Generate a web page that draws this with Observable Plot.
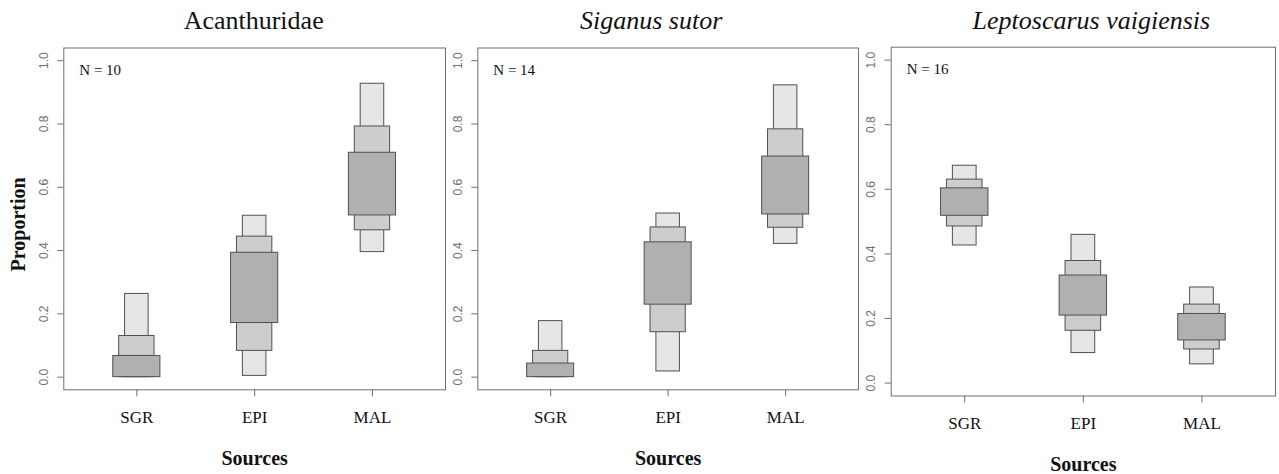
<!DOCTYPE html>
<html>
<head>
<meta charset="utf-8">
<script src="https://cdn.jsdelivr.net/npm/d3@7"></script>
<script src="https://cdn.jsdelivr.net/npm/@observablehq/plot@0.6"></script>
<style>
  body { margin: 0; background: white; }
  #wrap { position: relative; width: 1279px; height: 474px; overflow: hidden; background: white; }
  #wrap svg { position: absolute; top: 0; }
</style>
</head>
<body>
<div id="wrap"></div>
<script>
// ---------- data ----------
const sources = ["SGR", "EPI", "MAL"];
const titles = ["Acanthuridae", "Siganus sutor", "Leptoscarus vaigiensis"];
const titleItalic = [false, true, true];
const sampleN = [10, 14, 16];
const yTicks = [0, 0.2, 0.4, 0.6, 0.8, 1.0];

// credible intervals per source (SGR, EPI, MAL): 95%, 75%, 50% lower/upper
const acan_lo95 = [0.000, 0.004, 0.395];
const acan_lo75 = [0.000, 0.083, 0.464];
const acan_lo50 = [0.000, 0.171, 0.511];
const acan_hi50 = [0.067, 0.393, 0.709];
const acan_hi75 = [0.130, 0.444, 0.792];
const acan_hi95 = [0.263, 0.510, 0.927];

const sig_lo95 = [0.000, 0.018, 0.421];
const sig_lo75 = [0.000, 0.142, 0.472];
const sig_lo50 = [0.000, 0.229, 0.514];
const sig_hi50 = [0.043, 0.426, 0.697];
const sig_hi75 = [0.083, 0.473, 0.783];
const sig_hi95 = [0.177, 0.517, 0.922];

const lep_lo95 = [0.426, 0.093, 0.058];
const lep_lo75 = [0.485, 0.162, 0.104];
const lep_lo50 = [0.518, 0.209, 0.132];
const lep_hi50 = [0.603, 0.333, 0.214];
const lep_hi75 = [0.630, 0.378, 0.243];
const lep_hi95 = [0.673, 0.459, 0.296];

// ---------- build ----------
const panelsData = [
  [[acan_lo95, acan_hi95], [acan_lo75, acan_hi75], [acan_lo50, acan_hi50]],
  [[sig_lo95, sig_hi95], [sig_lo75, sig_hi75], [sig_lo50, sig_hi50]],
  [[lep_lo95, lep_hi95], [lep_lo75, lep_hi75], [lep_lo50, lep_hi50]]
];
const levelWidth = [0.2, 0.3, 0.4];
const levelFill = ["#e6e6e6", "#cdcdcd", "#b0b0b0"];

// layout of each panel (svg left, width, margins, title offset)
const layout = [
  {left: 0,   width: 448, mL: 63.3, mR: 3, mT: 47.5, mB: 84.7, tdx: -1},
  {left: 448, width: 413, mL: 29.3, mR: 3, mT: 47.5, mB: 84.7, tdx: -17},
  {left: 861, width: 418, mL: 29.7, mR: 4, mT: 46.7, mB: 78.5, tdx: 8}
];

const serif = "'Liberation Serif', 'Times New Roman', Times, serif";
const sans = "'Liberation Sans', Arial, Helvetica, sans-serif";
const wrap = document.getElementById("wrap");

panelsData.forEach((levels, p) => {
  const rects = [];
  levels.forEach(([lo, hi], l) => {
    sources.forEach((s, i) => {
      rects.push({x1: i + 1 - levelWidth[l] / 2, x2: i + 1 + levelWidth[l] / 2, y1: lo[i], y2: hi[i], level: l});
    });
  });
  const L = layout[p];
  const marks = [
    Plot.rect(rects, {x1: "x1", x2: "x2", y1: "y1", y2: "y2", fill: d => levelFill[d.level], stroke: "#505050", strokeWidth: 1}),
    Plot.frame({stroke: "#6e6e6e", strokeWidth: 1}),
    Plot.axisY({ticks: yTicks, tickSize: 6, tickFormat: () => "", stroke: "#6e6e6e"}),
    Plot.text(yTicks, {y: d => d, frameAnchor: "left", dx: -20, rotate: -90, text: d => d3.format(".1f")(d),
      fontSize: 12, fontFamily: sans, fill: "#707070", textAnchor: "middle", lineAnchor: "middle"}),
    Plot.axisX({ticks: [1, 2, 3], tickFormat: d => sources[d - 1], tickSize: 7, tickPadding: 14,
      fontSize: 17, fontFamily: serif, stroke: "#6e6e6e", fill: "#111"}),
    Plot.text([titles[p]], {frameAnchor: "top", dx: L.tdx, dy: -27, text: d => d, fontSize: 26, fontFamily: serif,
      fontStyle: titleItalic[p] ? "italic" : "normal", fill: "#111", lineAnchor: "middle"}),
    Plot.text(["N = " + sampleN[p]], {frameAnchor: "top-left", dx: 15.5, dy: 22, text: d => d, fontSize: 15,
      fontFamily: serif, fill: "#111", textAnchor: "start", lineAnchor: "middle"}),
    Plot.text(["Sources"], {frameAnchor: "bottom", dy: 68.5, text: d => d, fontSize: 20, fontWeight: "bold",
      fontFamily: serif, fill: "#111", lineAnchor: "middle"})
  ];
  if (p === 0) {
    marks.push(Plot.text(["Proportion"], {frameAnchor: "left", dx: -45.5, dy: 5.5, rotate: -90, text: d => d,
      fontSize: 20, fontWeight: "bold", fontFamily: serif, fill: "#111", lineAnchor: "middle", textAnchor: "middle"}));
  }
  const svg = Plot.plot({
    width: L.width,
    height: 474,
    marginLeft: L.mL,
    marginRight: L.mR,
    marginTop: L.mT,
    marginBottom: L.mB,
    style: {background: "white", overflow: "visible", maxWidth: "none"},
    x: {domain: [0.38, 3.62], axis: null},
    y: {domain: [-0.04, 1.04], axis: null},
    marks
  });
  svg.style.left = L.left + "px";
  wrap.appendChild(svg);
});
</script>
</body>
</html>
